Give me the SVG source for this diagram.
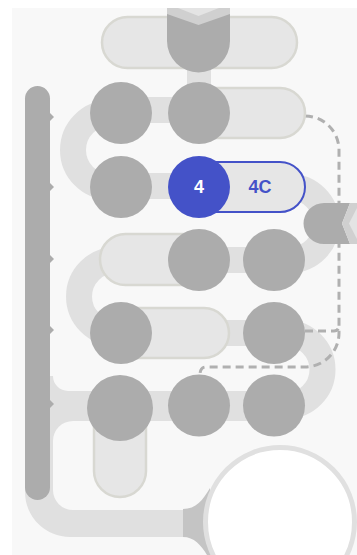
<svg xmlns="http://www.w3.org/2000/svg" width="357" height="555" viewBox="0 0 357 555">
<style>
.band{fill:none;stroke:#e0e0e0;stroke-width:26}
.bandf{fill:#e0e0e0}
.pill{fill:#e6e6e6;stroke:#d8d8d2;stroke-width:2.5}
.dot{fill:#acacac}
.dash{fill:none;stroke:#b0b0b0;stroke-width:3;stroke-dasharray:8 5}
.lbl{font-family:"Liberation Sans",Arial,sans-serif;font-weight:bold;font-size:18px;text-anchor:middle;dominant-baseline:central}
</style>
<rect x="0" y="0" width="357" height="555" fill="#ffffff"/>
<rect x="12" y="8" width="345" height="547" fill="#f8f8f8"/>
<g id="connectors">
  <rect class="bandf" x="187" y="60" width="24" height="30"/>
  <rect class="bandf" x="121" y="97" width="80" height="26"/>
  <path class="band" d="M121,113 H110 A37,37 0 0 0 110,187 H121"/>
  <rect class="bandf" x="121" y="173" width="80" height="26"/>
  <path class="band" d="M280,187 H290 A36.5,36.5 0 0 1 290,260 H274"/>
  <rect class="bandf" x="198" y="247" width="76" height="26"/>
  <path class="band" d="M130,260 H115.5 A36.5,36.5 0 0 0 115.5,333 H121"/>
  <rect class="bandf" x="200" y="320" width="74" height="26"/>
  <path class="band" d="M274,333 H286 A36.5,36.5 0 0 1 286,406 H274"/>
  <rect class="bandf" x="50" y="391" width="224" height="30"/>
  <path class="bandf" d="M25,391 H121 V421 H73 A20,20 0 0 0 53,441 V490 A20,20 0 0 0 73,510 H190 V537 H70 A45,45 0 0 1 25,492 Z"/>
  <path class="bandf" d="M50,376 H53 A15,15 0 0 0 68,391 L50,391 Z"/>
  <path fill="#c4c4c4" d="M183,509 C196,509 203,500 210,488 L212,555 L207,555 C201,545 194,537 183,537 Z"/>
  <path class="dash" d="M305,116 A34,34 0 0 1 339,150 V333 A34,34 0 0 1 305,367 H206 Q200,367 200,375"/>
  <path class="dash" d="M305,331 H334 Q339,331 339,325"/>
</g>
<g id="bar">
  <rect x="25" y="86" width="25" height="414" rx="12.5" fill="#acacac"/>
  <path fill="#acacac" d="M50,113 L54,117 L50,121 Z M50,183 L54,187 L50,191 Z M50,255 L54,259 L50,263 Z M50,326 L54,330 L50,334 Z M50,400 L54,404 L50,408 Z"/>
</g>
<g id="pill-top"><rect class="pill" x="102" y="17" width="195" height="51" rx="25.5"/></g>
<g id="pill-r1"><rect class="pill" x="180" y="88" width="125" height="50" rx="25"/></g>
<g id="pill-r3"><rect class="pill" x="100" y="234" width="110" height="51" rx="25.5"/></g>
<g id="pill-r4"><rect class="pill" x="110" y="308" width="119" height="50" rx="25"/></g>
<g id="pill-r5"><rect class="pill" x="94" y="400" width="52" height="97" rx="26"/></g>
<g id="top-arrow">
  <path fill="#acacac" d="M167,8 H230 V41 A31.5,31.5 0 0 1 167,41 Z"/>
  <path fill="#d0d0d0" d="M167,8 H230 V14 L198.5,25 L167,14 Z"/>
  <path fill="#e4e4e4" d="M178,8 H219 L198.5,16 Z"/>
</g>
<g id="r1c1"><circle class="dot" cx="121" cy="113" r="31"/></g>
<g id="r1c2"><circle class="dot" cx="199" cy="113" r="31"/></g>
<g id="r2c1"><circle class="dot" cx="121" cy="187" r="31"/></g>
<g id="node-4c">
  <rect x="180" y="162" width="125" height="50" rx="25" fill="#e6e6e6" stroke="#4452c8" stroke-width="2"/>
  <text class="lbl" x="260" y="187" fill="#4452c8">4C</text>
</g>
<g id="node-4">
  <circle cx="199" cy="187" r="31" fill="#4452c8"/>
  <text class="lbl" x="199" y="187" fill="#ffffff" font-size="17">4</text>
</g>
<g id="r3c1"><circle class="dot" cx="199" cy="260" r="31"/></g>
<g id="r3c2"><circle class="dot" cx="274" cy="260" r="31"/></g>
<g id="r4c1"><circle class="dot" cx="121" cy="333" r="31"/></g>
<g id="r4c2"><circle class="dot" cx="274" cy="333" r="31"/></g>
<g id="r5c1"><circle class="dot" cx="120" cy="408" r="33"/></g>
<g id="r5c2"><circle class="dot" cx="199" cy="405.5" r="31"/></g>
<g id="r5c3"><circle class="dot" cx="274" cy="405.5" r="31"/></g>
<g id="right-arrow">
  <path fill="#acacac" d="M350,203 H324 A20.5,20.5 0 0 0 324,244 H350 L342,223.5 Z"/>
  <path fill="#d0d0d0" d="M350,203 H357 V244 H350 L342,223.5 Z"/>
  <path fill="#e4e4e4" d="M357,208 L349,223.5 L357,239 Z"/>
</g>
<g id="end-node">
  <circle cx="280" cy="522" r="74.5" fill="#ffffff" stroke="#e0e0e0" stroke-width="5"/>
</g>
</svg>
